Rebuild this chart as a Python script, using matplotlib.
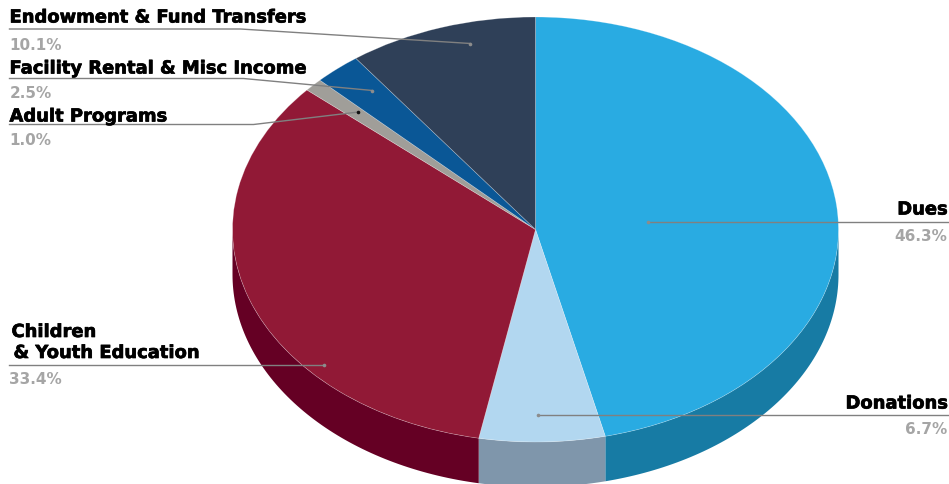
import matplotlib
matplotlib.use("Agg")
import matplotlib.pyplot as plt
import matplotlib.patheffects as pe
import numpy as np
from matplotlib.transforms import Affine2D

labels = ["Dues", "Donations", "Children\n& Youth Education", "Adult Programs",
          "Facility Rental & Misc Income", "Endowment & Fund Transfers"]
values = [46.3, 6.7, 33.4, 1.0, 2.5, 10.1]
pct_labels = ["46.3%", "6.7%", "33.4%", "1.0%", "2.5%", "10.1%"]
top_colors = ["#29ABE2", "#B2D7F0", "#911936", "#A09E99", "#0A5796", "#2F4058"]
side_colors = ["#177BA4", "#7F96AB", "#650024", "#650024", "#0A5796", "#2F4058"]

W, H = 949, 485
cx, cy, rx, ry = 535.5, 230.5, 303, 212.5
depth = 45

fig = plt.figure(figsize=(W / 100, H / 100), dpi=100)
ax = fig.add_axes([0, 0, 1, 1])
px = Affine2D().translate(0.5, 0.5).scale(1 / W, -1 / H).translate(0, 1) + fig.transFigure

ax.pie(values, colors=top_colors, startangle=90, counterclock=False, radius=1,
       wedgeprops=dict(edgecolor=(1, 1, 1, 0.3), linewidth=0.5, zorder=3))
ax.set_aspect("auto")
ax.set_xlim((0 - cx) / rx, (W - cx) / rx)
ax.set_ylim((cy - H) / ry, cy / ry)
ax.axis("off")

# side wall of the lower half
d = depth / ry
edges = np.cumsum([0] + values) / sum(values) * 2 * np.pi
for i in range(len(values)):
    a0, a1 = max(edges[i], np.pi / 2), min(edges[i + 1], 3 * np.pi / 2)
    if a1 <= a0:
        continue
    t = np.linspace(a0, a1, 80)
    xs = np.sin(t)
    ys = np.cos(t)
    ax.fill(np.r_[xs, xs[::-1]], np.r_[ys, ys[::-1] - d], color=side_colors[i],
            lw=0, zorder=2)

# leader lines, in pixels
leaders = [
    [(948, 222), (648, 222)],
    [(948, 415), (538, 415)],
    [(9, 365), (324, 365)],
    [(9, 125), (253, 125), (358, 112.5)],
    [(9, 79), (243, 79), (372, 91)],
    [(9, 29.5), (240, 29.5), (470, 44)],
]
for i, pts in enumerate(leaders):
    xs, ys = zip(*pts)
    ax.plot(xs, ys, color="#808080", lw=1, transform=px, zorder=4, clip_on=False)
    ax.plot(xs[-1], ys[-1], "o", ms=2.6, mew=0, zorder=5, transform=px,
            color="#111111" if i == 3 else "#8C8C8C")

heavy = [pe.withStroke(linewidth=0.5, foreground="black")]

# x, name baseline, percent baseline, alignment
placed = [
    (947, 215, 241, "right"),
    (947, 409, 434, "right"),
    (11, 358.5, 384, "left"),
    (9, 122, 145, "left"),
    (9, 74, 97, "left"),
    (9, 23, 49, "left"),
]
for i, (x, y1, y2, ha) in enumerate(placed):
    lines = labels[i].split("\n")
    if len(lines) == 2:
        ax.text(x, y1 - 21, lines[0], transform=px, ha=ha, va="baseline", fontsize=12.9,
                fontweight="bold", color="black", zorder=6, path_effects=heavy)
        ax.text(x + 2, y1, lines[1], transform=px, ha=ha, va="baseline", fontsize=12.9,
                fontweight="bold", color="black", zorder=6, path_effects=heavy)
    else:
        ax.text(x, y1, lines[0], transform=px, ha=ha, va="baseline", fontsize=12.9,
                fontweight="bold", color="black", zorder=6, path_effects=heavy)
    ax.text(9 if ha == "left" else x, y2, pct_labels[i], transform=px, ha=ha, va="baseline",
            fontsize=11, fontweight="bold", color="#A5A5A5", zorder=6)

fig.savefig("out.png", dpi=100, facecolor="white")
